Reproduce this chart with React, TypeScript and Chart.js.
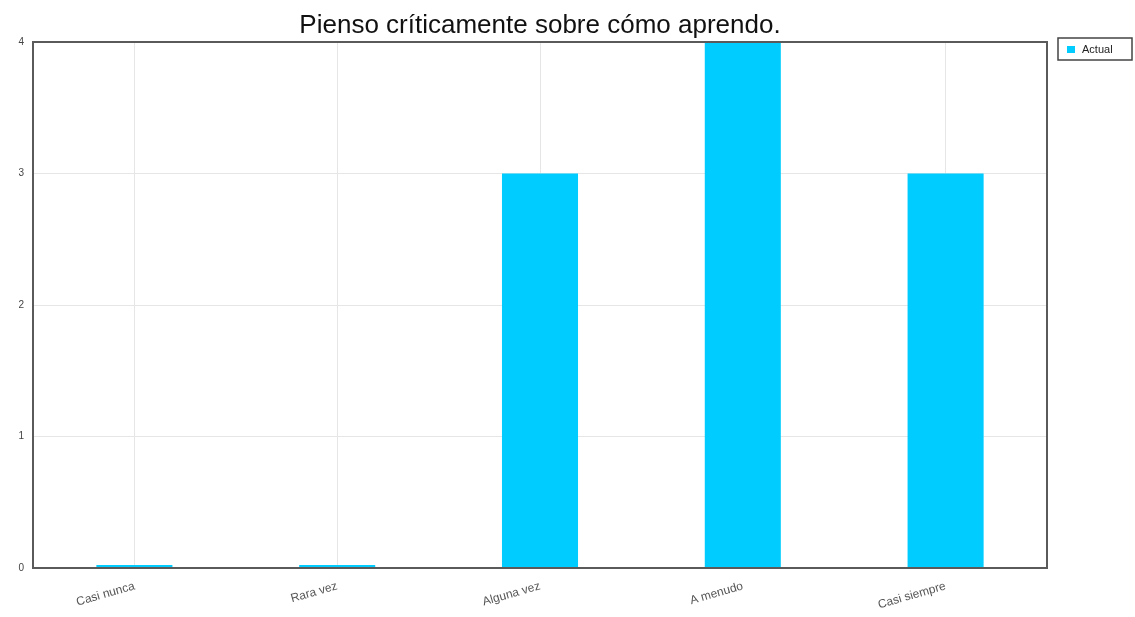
import React, { useEffect, useRef } from "react";
import { Chart, registerables } from "chart.js";

Chart.register(...registerables);

const TITLE = "Pienso críticamente sobre cómo aprendo.";
const CATEGORIES = ["Casi nunca", "Rara vez", "Alguna vez", "A menudo", "Casi siempre"];
const SERIES_LABEL = "Actual";
const SERIES_VALUES = [0, 0, 3, 4, 3];
const Y_MIN = 0;
const Y_MAX = 4;

const FONT = "'Liberation Sans', Arial, Helvetica, sans-serif";
const BAR_COLOR = "#00CCFF";

const framePlugin = {
  id: "frameAndLegend",
  afterDatasetsDraw(chart: any) {
    const { ctx, chartArea } = chart;
    ctx.save();
    ctx.strokeStyle = "#5a5a5a";
    ctx.lineWidth = 2;
    ctx.strokeRect(chartArea.left, chartArea.top, chartArea.right - chartArea.left, chartArea.bottom - chartArea.top);
    // legend box
    const lx = 1058, ly = 38, lw = 74, lh = 22;
    ctx.fillStyle = "#ffffff";
    ctx.fillRect(lx, ly, lw, lh);
    ctx.lineWidth = 1.5;
    ctx.strokeStyle = "#444";
    ctx.strokeRect(lx, ly, lw, lh);
    const ds = chart.data.datasets[0];
    ctx.fillStyle = ds.backgroundColor;
    ctx.fillRect(lx + 9, ly + 8, 8, 7);
    ctx.fillStyle = "#222";
    ctx.font = `11px ${FONT}`;
    ctx.textBaseline = "middle";
    ctx.textAlign = "left";
    ctx.fillText(ds.label, lx + 24, ly + lh / 2 + 0.5);
    ctx.restore();
  },
};

export default function App() {
  const ref = useRef<HTMLCanvasElement>(null);
  useEffect(() => {
    if (!ref.current) return;
    const chart = new Chart(ref.current, {
      type: "bar",
      data: {
        labels: CATEGORIES,
        datasets: [
          {
            label: SERIES_LABEL,
            data: SERIES_VALUES,
            backgroundColor: BAR_COLOR,
            borderWidth: 0,
            barPercentage: 0.75,
            categoryPercentage: 0.5,
            minBarLength: 3,
          },
        ],
      },
      options: {
        responsive: false,
        animation: false,
        maintainAspectRatio: false,
        layout: { padding: { left: 8, right: 88, top: 0, bottom: 0 } },
        plugins: {
          legend: { display: false },
          tooltip: { enabled: false },
          title: {
            display: true,
            text: TITLE,
            fullSize: false,
            color: "#111",
            font: { family: FONT, size: 26, weight: "normal", lineHeight: 1.2 },
            padding: { top: 10, bottom: 0.8 },
          },
        },
        scales: {
          x: {
            grid: { offset: false, color: "#e6e6e6", lineWidth: 1, drawTicks: false },
            border: { display: false },
            ticks: {
              color: "#555",
              font: { family: FONT, size: 12 },
              minRotation: 16,
              maxRotation: 16,
              padding: 11,
            },
            afterFit(scale: any) {
              scale.height = 49;
            },
          },
          y: {
            min: Y_MIN,
            max: Y_MAX,
            grid: { color: "#e6e6e6", lineWidth: 1, drawTicks: false },
            border: { display: false },
            ticks: {
              stepSize: 1,
              color: "#444",
              font: { family: FONT, size: 10 },
              padding: 9,
            },
            afterFit(scale: any) {
              scale.width = 25;
            },
          },
        },
      },
      plugins: [framePlugin],
    });
    return () => chart.destroy();
  }, []);
  return (
    <div style={{ position: "fixed", left: 0, top: 0, width: 1135, height: 617, background: "#fff" }}>
      <canvas ref={ref} width={1135} height={617} style={{ display: "block" }} />
    </div>
  );
}
